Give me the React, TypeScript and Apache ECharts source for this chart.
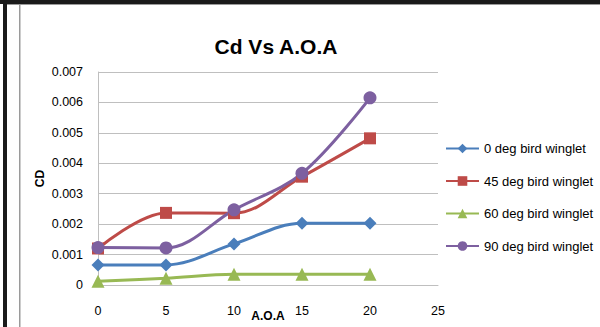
import React, { useEffect, useRef } from "react";
import * as echarts from "echarts";

const aoa = [0, 5, 10, 15, 20];
const deg0 = [0.00066, 0.00066, 0.00135, 0.00203, 0.00203];
const deg45 = [0.0012, 0.00237, 0.00236, 0.00356, 0.00482];
const deg60 = [0.00012, 0.00022, 0.00035, 0.00035, 0.00035];
const deg90 = [0.00123, 0.00122, 0.00247, 0.00367, 0.00615];
const seriesNames = ["0 deg bird winglet", "45 deg bird winglet", "60 deg bird winglet", "90 deg bird winglet"];

const FONT = "'Liberation Sans', Arial, sans-serif";

export default function App() {
  const ref = useRef<HTMLDivElement>(null);
  useEffect(() => {
    if (!ref.current) return;
    const chart = echarts.init(ref.current, undefined, { renderer: "svg" });
    const mk = (name: string, vals: number[], color: string, symbol: string, size: number) => ({
      name,
      type: "line",
      data: aoa.map((x, i) => [x, vals[i]]),
      smooth: 0.35,
      symbol,
      symbolSize: size,
      lineStyle: { color, width: 3 },
      itemStyle: { color },
      z: 3,
    });
    chart.setOption({
      animation: false,
      backgroundColor: "#ffffff",
      textStyle: { fontFamily: FONT },
      title: {
        text: "Cd Vs A.O.A",
        left: 271,
        top: 31,
        textAlign: "center",
        textStyle: { fontFamily: FONT, fontWeight: "bold", fontSize: 21, color: "#000" },
      },
      graphic: [
        { type: "rect", shape: { x: 0, y: 0, width: 600, height: 4 }, style: { fill: "#1a1a1a" } },
        { type: "rect", shape: { x: 3, y: 0, width: 4, height: 327 }, style: { fill: "#1a1a1a" } },
        { type: "rect", shape: { x: 7, y: 4, width: 593, height: 1 }, style: { fill: "#9a9a9a" } },
        { type: "rect", shape: { x: 19, y: 4, width: 1.5, height: 323 }, style: { fill: "#9a9a9a" } },
      ],
      legend: {
        orient: "vertical",
        left: 440,
        top: 137,
        itemWidth: 33,
        itemHeight: 12,
        itemGap: 19.5,
        data: seriesNames,
        textStyle: { fontFamily: FONT, fontSize: 13, color: "#000" },
      },
      grid: { left: 98, right: 162, top: 72, bottom: 42, outerBoundsMode: "none" },
      xAxis: {
        type: "value",
        min: 0,
        max: 25,
        interval: 5,
        name: "A.O.A",
        nameLocation: "middle",
        nameGap: 25,
        nameMoveOverlap: false,
        nameTextStyle: { fontFamily: FONT, fontWeight: "bold", fontSize: 12, color: "#000" },
        axisLine: { show: true, lineStyle: { color: "#bfbfbf", width: 1 } },
        axisTick: { show: false },
        splitLine: { show: false },
        axisLabel: { margin: 19, fontFamily: FONT, fontSize: 12.5, color: "#000" },
      },
      yAxis: {
        type: "value",
        min: 0,
        max: 0.007,
        interval: 0.001,
        name: "CD",
        nameLocation: "middle",
        nameGap: 52,
        nameMoveOverlap: false,
        nameRotate: 90,
        nameTextStyle: { fontFamily: FONT, fontWeight: "bold", fontSize: 12, color: "#000" },
        axisLine: { show: true, lineStyle: { color: "#bfbfbf", width: 1 } },
        axisTick: { show: false },
        splitLine: { show: true, lineStyle: { color: "#bfbfbf", width: 1 } },
        axisLabel: {
          margin: 15,
          fontFamily: FONT,
          fontSize: 12.5,
          color: "#000",
          formatter: (v: number) => (v === 0 ? "0" : v.toFixed(3)),
        },
      },
      series: [
        mk(seriesNames[0], deg0, "#4A7EBB", "diamond", 13),
        mk(seriesNames[1], deg45, "#BE4B48", "rect", 12),
        mk(seriesNames[2], deg60, "#98B954", "triangle", 13),
        mk(seriesNames[3], deg90, "#7D60A0", "circle", 13),
      ],
    });
    return () => chart.dispose();
  }, []);
  return (
    <div
      ref={ref}
      style={{ position: "absolute", left: 0, top: 0, width: 600, height: 327 }}
    />
  );
}
